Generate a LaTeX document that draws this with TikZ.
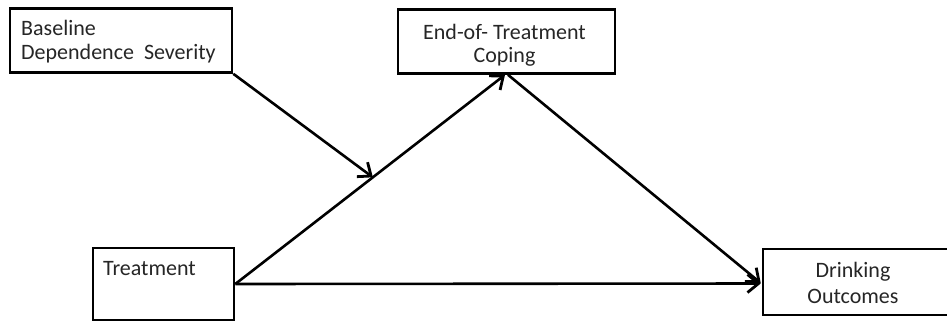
\documentclass[tikz,border=0pt]{standalone}
\usepackage{fontspec}
\setmainfont{Carlito}
\usetikzlibrary{arrows.meta,calc}
\begin{document}
\begin{tikzpicture}[x=1pt,y=-1pt,
  box/.style={draw=black,line width=2.6pt,rectangle,inner sep=0pt,fill=white},
  txt/.style={font=\fontsize{22}{26}\selectfont,text=black!85,inner sep=0pt,anchor=base},
  conn/.style={line width=2.6pt,-{Straight Barb[length=11pt,width=18pt,line width=2.8pt]}}]
\useasboundingbox (0,0) rectangle (947,322);
\node[box,minimum width=222pt,minimum height=64pt] (B1) at (121,40.5) {};
\node[box,minimum width=217pt,minimum height=64pt] (B2) at (506.5,41.5) {};
\node[box,minimum width=141pt,minimum height=72pt] (B3) at (163.5,284) {};
\node[box,minimum width=192pt,minimum height=66pt] (B4) at (859,282) {};
\node[txt,anchor=base west] (T1a) at (21,35) {Baseline};
\node[txt,anchor=base west] (T1b) at (21,59) {Dependence\ \ Severity};
\node[txt] (T2a) at (504.5,39) {End-of-\ Treatment};
\node[txt] (T2b) at (504.5,62) {Coping};
\node[txt,anchor=base west] (T3) at (103,275) {Treatment};
\node[txt] (T4a) at (853,277) {Drinking};
\node[txt] (T4b) at (853,303) {Outcomes};
\coordinate (C2) at ($(B2.south)+(-1.5,0)$);
\coordinate (C2b) at ($(B2.south)+(1.5,0)$);
\coordinate (Mid) at ($(B3.east)!0.51!(C2)$);
\draw[conn] (B3.east) -- (C2);
\draw[conn] (C2b) -- ($(B4.west)+(-1,1)$);
\draw[conn] (B3.east) -- ($(B4.west)+(-1,1.5)$);
\draw[conn] (B1.south east) -- (Mid);
\end{tikzpicture}
\end{document}
